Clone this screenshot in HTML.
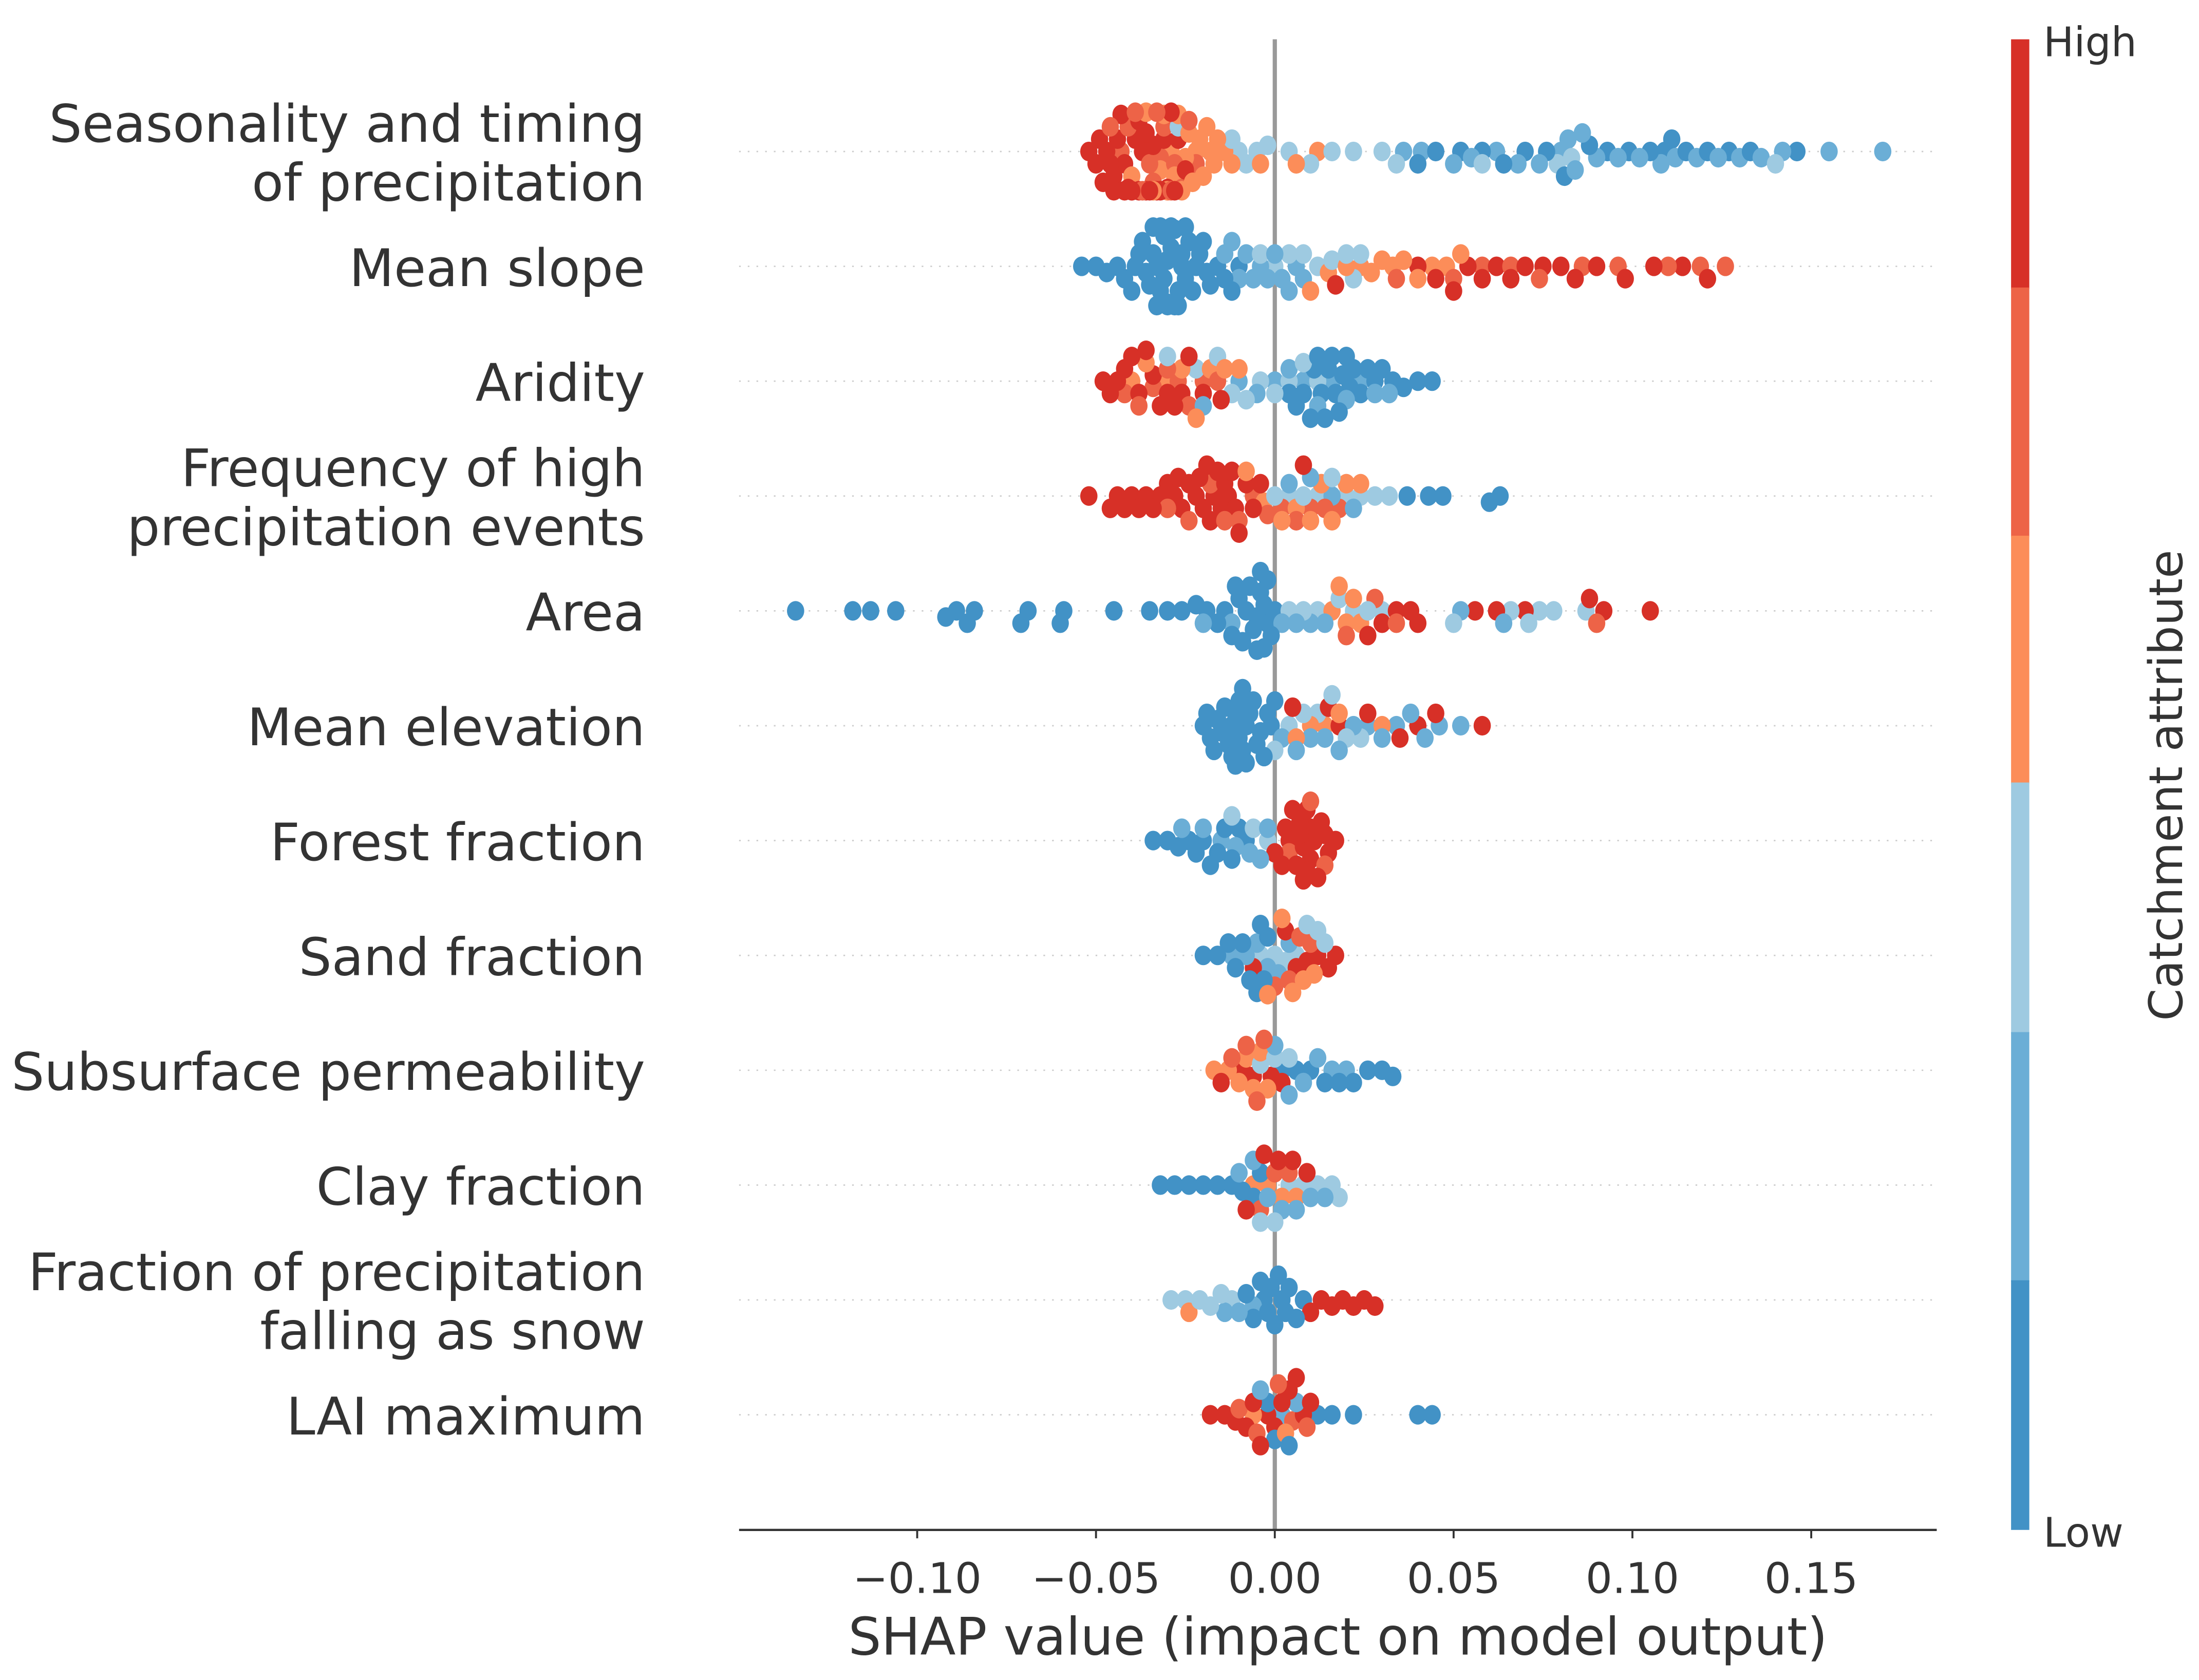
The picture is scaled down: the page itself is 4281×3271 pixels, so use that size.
<!DOCTYPE html>
<html><head><meta charset="utf-8">
<style>
html,body{margin:0;padding:0;background:#fff;}
svg{display:block;}
text{font-family:"DejaVu Sans","Liberation Sans",sans-serif;fill:#333;}
</style></head>
<body>
<svg id="chart" width="4281" height="3271" viewBox="0 0 1568 1198" xmlns="http://www.w3.org/2000/svg">
  <g id="grid"></g>
  <line x1="909" y1="28" x2="909" y2="1091" stroke="#999" stroke-width="3"/>
  <g id="dots"></g>
  <g id="labels"></g>
  <g id="xaxis">
    <line x1="527" y1="1091" x2="1381" y2="1091" stroke="#333" stroke-width="1.6"/>
  </g>
  <text x="954" y="1180" font-size="37" text-anchor="middle">SHAP value (impact on model output)</text>
  <g>
    <rect x="1434" y="28" width="13" height="178" fill="#d73027"/>
    <rect x="1434" y="205" width="13" height="178" fill="#ed6347"/>
    <rect x="1434" y="382" width="13" height="177" fill="#fc8d59"/>
    <rect x="1434" y="558" width="13" height="179" fill="#9ecae1"/>
    <rect x="1434" y="736" width="13" height="178" fill="#6baed6"/>
    <rect x="1434" y="913" width="13" height="178" fill="#4292c6"/>
    <text x="1457" y="40" font-size="29">High</text>
    <text x="1457" y="1103" font-size="29">Low</text>
    <text x="1556" y="560" font-size="33" text-anchor="middle" transform="rotate(-90 1556 560)">Catchment attribute</text>
  </g>
</svg>
<script>
const features = [
 ["Seasonality and timing","of precipitation"],["Mean slope"],["Aridity"],
 ["Frequency of high","precipitation events"],["Area"],["Mean elevation"],["Forest fraction"],
 ["Sand fraction"],["Subsurface permeability"],["Clay fraction"],
 ["Fraction of precipitation","falling as snow"],["LAI maximum"]
];
const xTicks = [-0.10,-0.05,0.00,0.05,0.10,0.15];
const xTickLabels = ["\u22120.10","\u22120.05","0.00","0.05","0.10","0.15"];
const levelColors = ["#4292c6","#6baed6","#9ecae1","#fc8d59","#ed6347","#d73027"];
// per feature: groups of [colour level, SHAP values]
const shapSeasonality = [
 [5,[-0.052,-0.050,-0.049,-0.048,-0.047,-0.046,-0.045,-0.045,-0.044,-0.043,-0.042,-0.042,-0.041,-0.040,-0.040,-0.039,-0.038,-0.038,-0.037,-0.036,-0.036,-0.035,-0.034,-0.033,-0.032,-0.031,-0.030,-0.029,-0.028,-0.027,-0.025]],
 [4,[-0.046,-0.043,-0.041,-0.039,-0.037,-0.035,-0.034,-0.033,-0.032,-0.031,-0.030,-0.029,-0.028,-0.026,-0.024,-0.022]],
 [3,[-0.040,-0.036,-0.034,-0.032,-0.031,-0.030,-0.029,-0.028,-0.027,-0.026,-0.025,-0.024,-0.023,-0.022,-0.021,-0.020,-0.019,-0.018,-0.017,-0.016,-0.014,-0.012,-0.004,0.006,0.012]],
 [2,[-0.027,-0.012,-0.010,-0.008,-0.005,-0.002,0.004,0.010,0.016,0.022,0.030,0.034,0.058,0.079,0.083,0.140]],
 [1,[0.036,0.041,0.050,0.055,0.062,0.068,0.074,0.080,0.082,0.084,0.086,0.090,0.096,0.102,0.108,0.112,0.118,0.124,0.130,0.136,0.142,0.155,0.170]],
 [0,[0.040,0.045,0.052,0.058,0.064,0.070,0.076,0.081,0.088,0.093,0.099,0.105,0.109,0.111,0.115,0.121,0.127,0.133,0.146]]
];
const shapSlope = [
 [0,[-0.054,-0.050,-0.047,-0.044,-0.042,-0.040,-0.039,-0.038,-0.037,-0.036,-0.035,-0.034,-0.034,-0.033,-0.033,-0.032,-0.032,-0.031,-0.031,-0.030,-0.030,-0.030,-0.029,-0.029,-0.028,-0.028,-0.027,-0.027,-0.026,-0.026,-0.025,-0.025,-0.024,-0.023,-0.022,-0.021,-0.020,-0.019,-0.018,-0.016,-0.014,-0.012,-0.010]],
 [1,[-0.014,-0.012,-0.010,-0.008,-0.006,-0.004,-0.002,0.000,0.002,0.004,0.006,0.008]],
 [2,[-0.004,0.000,0.004,0.008,0.012,0.016,0.020,0.022,0.024]],
 [3,[0.010,0.015,0.020,0.024,0.027,0.030,0.033,0.036,0.040,0.044,0.048,0.052]],
 [4,[0.034,0.050,0.058,0.066,0.074,0.086,0.096,0.110,0.119,0.126]],
 [5,[0.017,0.040,0.045,0.050,0.054,0.058,0.062,0.066,0.070,0.075,0.080,0.084,0.090,0.098,0.106,0.114,0.121]]
];
const shapAridity = [
 [5,[-0.048,-0.046,-0.044,-0.042,-0.040,-0.038,-0.036,-0.034,-0.032,-0.030,-0.028,-0.026,-0.024,-0.020,-0.015]],
 [4,[-0.042,-0.038,-0.034,-0.030,-0.027,-0.024,-0.020,-0.016]],
 [3,[-0.040,-0.036,-0.031,-0.026,-0.022,-0.018,-0.014,-0.010]],
 [2,[-0.030,-0.022,-0.016,-0.012,-0.008,-0.004,0.000,0.004,0.008,0.012]],
 [1,[-0.020,-0.010,-0.005,0.000,0.004,0.008,0.012,0.016,0.020,0.024,0.028,0.032]],
 [0,[0.004,0.006,0.008,0.010,0.011,0.012,0.013,0.014,0.015,0.016,0.017,0.018,0.019,0.020,0.021,0.022,0.024,0.026,0.028,0.030,0.033,0.036,0.040,0.044]]
];
const shapFrequency = [
 [5,[-0.052,-0.046,-0.044,-0.042,-0.040,-0.038,-0.036,-0.034,-0.032,-0.030,-0.028,-0.027,-0.026,-0.024,-0.022,-0.021,-0.020,-0.019,-0.018,-0.017,-0.016,-0.015,-0.014,-0.013,-0.012,-0.011,-0.010,-0.008,-0.006,-0.004,0.008]],
 [4,[-0.030,-0.024,-0.018,-0.014,-0.010,-0.006,-0.002,0.002,0.006,0.010,0.014,0.018]],
 [3,[-0.008,-0.003,0.002,0.006,0.010,0.013,0.016,0.020,0.024]],
 [2,[0.000,0.004,0.008,0.012,0.016,0.020,0.024,0.028,0.032]],
 [1,[0.004,0.010,0.016,0.022]],
 [0,[0.037,0.043,0.047,0.060,0.063]]
];
const shapArea = [
 [0,[-0.134,-0.118,-0.113,-0.106,-0.092,-0.089,-0.086,-0.084,-0.071,-0.069,-0.060,-0.059,-0.045,-0.035,-0.030,-0.026,-0.022,-0.019,-0.016,-0.014,-0.012,-0.011,-0.010,-0.009,-0.008,-0.007,-0.006,-0.005,-0.005,-0.004,-0.004,-0.003,-0.003,-0.002,-0.002,-0.001,0.000]],
 [1,[-0.020,-0.012,0.002,0.006,0.010,0.014,0.052,0.064]],
 [2,[0.004,0.008,0.012,0.018,0.022,0.026,0.030,0.050,0.066,0.071,0.074,0.078,0.087]],
 [3,[0.016,0.018,0.020,0.022,0.024]],
 [4,[0.020,0.028,0.034,0.090]],
 [5,[0.026,0.030,0.034,0.038,0.040,0.056,0.062,0.070,0.088,0.092,0.105]]
];
const shapElevation = [
 [0,[-0.020,-0.019,-0.018,-0.017,-0.016,-0.015,-0.014,-0.013,-0.012,-0.012,-0.011,-0.011,-0.010,-0.010,-0.009,-0.009,-0.008,-0.008,-0.007,-0.006,-0.005,-0.004,-0.003,-0.002,-0.001,0.000]],
 [1,[0.002,0.006,0.010,0.014,0.018,0.022,0.026,0.030,0.034,0.038,0.042,0.046,0.052]],
 [2,[0.000,0.004,0.008,0.012,0.016,0.020,0.024]],
 [3,[0.006,0.010,0.014,0.018,0.030]],
 [5,[0.005,0.015,0.018,0.026,0.035,0.040,0.045,0.058]]
];
const shapForest = [
 [0,[-0.034,-0.030,-0.027,-0.024,-0.022,-0.020,-0.018,-0.016,-0.014,-0.012,-0.010,-0.008]],
 [1,[-0.026,-0.020,-0.015,-0.011,-0.007,-0.004,-0.002]],
 [2,[-0.012,-0.006,-0.002]],
 [4,[0.004,0.010,0.014]],
 [5,[0.000,0.002,0.003,0.004,0.005,0.006,0.007,0.007,0.008,0.008,0.009,0.009,0.010,0.010,0.011,0.012,0.013,0.014,0.015,0.017]]
];
const shapSand = [
 [0,[-0.020,-0.016,-0.013,-0.011,-0.009,-0.007,-0.005,-0.004,-0.003,-0.002]],
 [1,[-0.012,-0.008,-0.005,-0.002,0.001,0.004]],
 [2,[-0.004,0.000,0.003,0.006,0.009,0.012,0.014]],
 [3,[-0.002,0.002,0.005,0.008,0.011]],
 [4,[0.000,0.004,0.007,0.010]],
 [5,[-0.006,0.003,0.006,0.009,0.012,0.015,0.017]]
];
const shapSubsurface = [
 [3,[-0.017,-0.013,-0.010,-0.008,-0.006,-0.004,-0.002]],
 [4,[-0.012,-0.008,-0.005,-0.003]],
 [5,[-0.015,-0.009,-0.006,-0.001,0.002]],
 [2,[-0.004,0.000,0.004]],
 [1,[0.000,0.004,0.008,0.012,0.016,0.020]],
 [0,[0.002,0.006,0.010,0.014,0.018,0.022,0.026,0.030,0.033]]
];
const shapClay = [
 [0,[-0.032,-0.028,-0.024,-0.020,-0.016,-0.012,-0.009,-0.006,-0.004]],
 [1,[-0.010,-0.006,-0.002,0.002,0.006,0.010,0.014]],
 [2,[-0.004,0.000,0.004,0.008,0.012,0.016,0.018]],
 [3,[-0.006,-0.002,0.002,0.006]],
 [4,[-0.004,0.000,0.004]],
 [5,[-0.008,-0.003,0.001,0.005,0.009]]
];
const shapSnow = [
 [2,[-0.029,-0.025,-0.021,-0.018,-0.015,-0.012]],
 [3,[-0.024]],
 [1,[-0.014,-0.010,-0.006]],
 [0,[-0.008,-0.006,-0.004,-0.003,-0.002,-0.001,0.000,0.001,0.002,0.003,0.004,0.006,0.008]],
 [5,[0.010,0.013,0.016,0.019,0.022,0.025,0.028]]
];
const shapLAI = [
 [5,[-0.018,-0.014,-0.011,-0.008,-0.006,-0.004,-0.002,0.000,0.002,0.004,0.006,0.008,0.010]],
 [4,[-0.010,-0.005,0.001,0.005,0.009]],
 [3,[-0.006,0.003]],
 [1,[-0.004,0.002,0.006]],
 [0,[-0.002,0.000,0.004,0.012,0.016,0.022,0.040,0.044]]
];
const allShap = [shapSeasonality,shapSlope,shapAridity,shapFrequency,shapArea,shapElevation,shapForest,shapSand,shapSubsurface,shapClay,shapSnow,shapLAI];

const NS="http://www.w3.org/2000/svg";
const X0=909, PXU=2550;
function xScale(v){return X0+v*PXU;}
const ROW0=108, ROWSTEP=81.9;
function yScale(i){return ROW0+i*ROWSTEP;}
const R=7.0;
const grid=document.getElementById('grid'), dots=document.getElementById('dots'), labels=document.getElementById('labels'), xaxis=document.getElementById('xaxis');

features.forEach((f,i)=>{
  const y=yScale(i);
  const gl=document.createElementNS(NS,'line');
  
  
  gl.setAttribute('x1',527);gl.setAttribute('x2',1381);gl.setAttribute('y1',y);gl.setAttribute('y2',y);
  gl.setAttribute('stroke','#ccc');gl.setAttribute('stroke-width','1');gl.setAttribute('stroke-dasharray','1.2 5');
  grid.appendChild(gl);
  const t=document.createElementNS(NS,'text');
  
  
  t.setAttribute('x',460);t.setAttribute('text-anchor','end');t.setAttribute('font-size','37');
  const n=f.length;
  f.forEach((line,k)=>{
    const ts=document.createElementNS(NS,'tspan');
    ts.setAttribute('x',460);
    ts.setAttribute('y',y+14+(k-(n-1)/2)*42);
    ts.textContent=line;
    t.appendChild(ts);
  });
  labels.appendChild(t);

  const pts=[];
  allShap[i].forEach(g=>g[1].forEach(v=>pts.push({v:v,c:g[0]})));
  const order=pts.map((p,k)=>({p:p,k:(k*37)%pts.length})).sort((a,b)=>a.k-b.k).map(o=>o.p);
  const placed=[];
  order.forEach(p=>{
    const px=xScale(p.v);
    let off=0;
    for(let s=0;s<40;s++){
      const o=(s%2?1:-1)*Math.ceil(s/2)*2.2;
      let ok=true;
      for(const q of placed){const dx=q.x-px, dy=q.o-o; if(dx*dx+dy*dy<(2*R*0.62)**2){ok=false;break;}}
      if(ok){off=o;break;}
      off=o;
    }
    off=Math.max(-28,Math.min(28,off));
    placed.push({x:px,o:off});
    const c=document.createElementNS(NS,'ellipse');
    
    
    c.setAttribute('cx',px);c.setAttribute('cy',y+off);
    c.setAttribute('rx',R*0.88);c.setAttribute('ry',R);
    c.setAttribute('fill',levelColors[p.c]);
    dots.appendChild(c);
  });
});

xTicks.forEach((v,k)=>{
  const x=xScale(v);
  const tk=document.createElementNS(NS,'line');
  
  
  tk.setAttribute('x1',x);tk.setAttribute('x2',x);tk.setAttribute('y1',1091);tk.setAttribute('y2',1097);
  tk.setAttribute('stroke','#333');tk.setAttribute('stroke-width','1.4');
  xaxis.appendChild(tk);
  const t=document.createElementNS(NS,'text');
  
  
  t.setAttribute('x',x);t.setAttribute('y',1136);t.setAttribute('text-anchor','middle');t.setAttribute('font-size','30');
  t.textContent=xTickLabels[k];
  xaxis.appendChild(t);
});
</script>
</body></html>
